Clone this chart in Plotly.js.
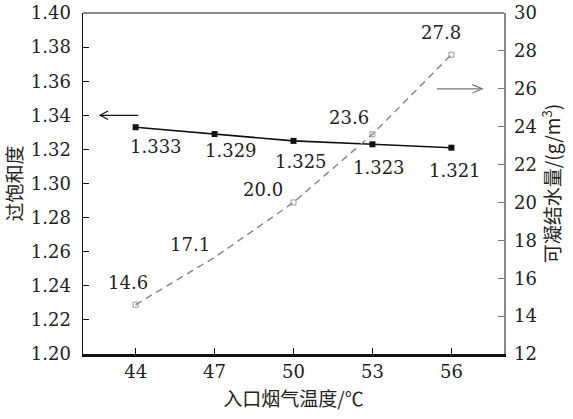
<!DOCTYPE html>
<html>
<head>
<meta charset="utf-8">
<script src="https://cdn.plot.ly/plotly-3.0.1.min.js"></script>
<style>html,body{margin:0;padding:0;background:#fff;}</style>
</head>
<body>
<div id="chart" style="width:573px;height:419px;"></div>
<script>
// Data
var temperatures = [44, 47, 50, 53, 56];
var supersaturation = [1.333, 1.329, 1.325, 1.323, 1.321];
var condensableWater = [14.6, 17.1, 20.0, 23.6, 27.8];
var supersatLabels = ['1.333', '1.329', '1.325', '1.323', '1.321'];
var waterLabels = ['14.6', '17.1', '20.0', '23.6', '27.8'];

// label offsets (px) for styling only
var supersatShiftX = [20, 16, 7, 7, 4];
var supersatShiftY = [-19, -16, -21, -23, -23];
var waterShiftX = [-8, -25, -31, -23, -10];
var waterShiftY = [22, 13, 13, 17, 22];
var waterMarkerOpacity = [1, 0, 1, 1, 1];

var serif = "DejaVu Serif";
var cjk = "Noto Sans CJK SC, DejaVu Serif";

var traces = [
  {
    x: temperatures, y: supersaturation, type: 'scatter', mode: 'lines+markers',
    line: {color: '#111', width: 1.6},
    marker: {symbol: 'square', size: 6, color: '#111'},
    yaxis: 'y', hoverinfo: 'none'
  },
  {
    x: temperatures, y: condensableWater, type: 'scatter', mode: 'lines+markers',
    line: {color: '#8a8a8a', width: 1.5, dash: '7px,5px'},
    marker: {symbol: 'square-open', size: 5, color: '#9a9a9a', opacity: waterMarkerOpacity, line: {width: 1, color: '#9a9a9a'}},
    yaxis: 'y2', hoverinfo: 'none'
  }
];

var annotations = [];
for (var i = 0; i < temperatures.length; i++) {
  annotations.push({
    x: temperatures[i], y: supersaturation[i], xref: 'x', yref: 'y',
    text: supersatLabels[i], showarrow: false,
    xshift: supersatShiftX[i], yshift: supersatShiftY[i],
    font: {family: serif, size: 18, color: '#222'}
  });
  annotations.push({
    x: temperatures[i], y: condensableWater[i], xref: 'x', yref: 'y2',
    text: waterLabels[i], showarrow: false,
    xshift: waterShiftX[i], yshift: waterShiftY[i],
    font: {family: serif, size: 18, color: '#222'}
  });
}

var layout = {
  width: 573, height: 419,
  margin: {l: 83, r: 69, t: 13, b: 65},
  paper_bgcolor: '#fff', plot_bgcolor: '#fff',
  showlegend: false,
  font: {family: serif, size: 18, color: '#222'},
  xaxis: {
    range: [42, 58], tickvals: temperatures, ticktext: temperatures.map(String),
    ticks: 'inside', ticklen: 6, tickwidth: 1.2, tickcolor: '#111',
    showline: true, linecolor: '#111', linewidth: 2.5,
    showgrid: false, zeroline: false,
    tickfont: {family: serif, size: 18, color: '#222'},
    ticklabelstandoff: 0,
    title: {text: '入口烟气温度/℃', font: {family: cjk, size: 19, color: '#222'}, standoff: 12}
  },
  yaxis: {
    range: [1.20, 1.40], dtick: 0.02, tick0: 1.20, tickformat: '.2f',
    ticks: 'inside', ticklen: 6, tickwidth: 1.2, tickcolor: '#111',
    showline: true, linecolor: '#111', linewidth: 1.5,
    showgrid: false, zeroline: false,
    tickfont: {family: serif, size: 18, color: '#222'},
    ticklabelstandoff: 7,
    title: {text: '过饱和度', font: {family: cjk, size: 19, color: '#222'}, standoff: 10}
  },
  yaxis2: {
    range: [12, 30], dtick: 2, tick0: 12, overlaying: 'y', side: 'right',
    ticks: 'inside', ticklen: 6, tickwidth: 1.2, tickcolor: '#777',
    showline: true, linecolor: '#888', linewidth: 1.5,
    showgrid: false, zeroline: false,
    tickfont: {family: serif, size: 18, color: '#222'},
    ticklabelstandoff: 5,
    title: {text: '可凝结水量/(g/m<sup>3</sup>)', font: {family: cjk, size: 19, color: '#222'}, standoff: 10}
  },
  shapes: [
    {type: 'line', xref: 'paper', yref: 'paper', x0: 0, x1: 1, y0: 1, y1: 1, line: {color: '#111', width: 1}},
    {type: 'line', xref: 'x', yref: 'y', x0: 42.65, x1: 44.1, y0: 1.34, y1: 1.34, line: {color: '#111', width: 1.2}},
    {type: 'path', xref: 'x', yref: 'y', path: 'M 42.95 1.3425 L 42.65 1.34 L 42.95 1.3375', line: {color: '#111', width: 1.2}},
    {type: 'line', xref: 'x', yref: 'y2', x0: 55.45, x1: 57.17, y0: 26, y1: 26, line: {color: '#777', width: 1.2}},
    {type: 'path', xref: 'x', yref: 'y2', path: 'M 56.8 26.22 L 57.17 26 L 56.8 25.78', line: {color: '#777', width: 1.2}}
  ],
  annotations: annotations
};

Plotly.newPlot('chart', traces, layout, {displayModeBar: false, staticPlot: true});
</script>
</body>
</html>
